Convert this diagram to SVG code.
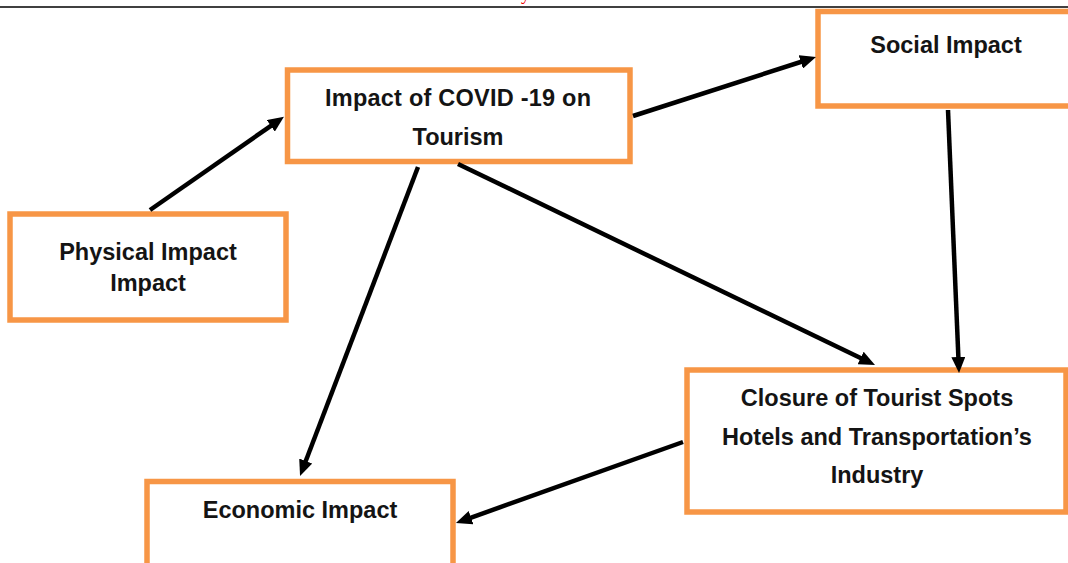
<svg xmlns="http://www.w3.org/2000/svg" width="1068" height="563" viewBox="0 0 1068 563">
<style>
.box{fill:#fff;stroke:#F79646;stroke-width:5.5}
.lbl{font-family:"Liberation Sans",Arial,sans-serif;font-weight:bold;font-size:23.5px;fill:#141414;text-anchor:middle}
.con{stroke:#000;stroke-width:4.5;fill:none;marker-end:url(#ah)}
</style>
<defs>
<marker id="ah" markerUnits="userSpaceOnUse" markerWidth="16" markerHeight="14" viewBox="0 0 16 14" refX="8" refY="7" orient="auto">
<path d="M0,0 L16,7 L0,14 z" fill="#000"/>
</marker>
</defs>
<rect width="1068" height="563" fill="#fff"/>
<line x1="0" y1="7" x2="1068" y2="7" stroke="#000" stroke-width="1.5"/>
<text x="521" y="0" font-family="Liberation Serif,serif" font-size="18" fill="#e00">y</text>
<g id="node-covid">
<rect class="box" x="287.5" y="70" width="342.5" height="91.5"/>
<text class="lbl" x="458" y="106" textLength="266">Impact of COVID -19 on</text>
<text class="lbl" x="458" y="145">Tourism</text>
</g>
<g id="node-physical">
<rect class="box" x="10" y="214" width="276" height="106"/>
<text class="lbl" x="148" y="260">Physical Impact</text>
<text class="lbl" x="148" y="291">Impact</text>
</g>
<g id="node-social">
<rect class="box" x="818" y="11.5" width="258" height="94.5"/>
<text class="lbl" x="946" y="53">Social Impact</text>
</g>
<g id="node-closure">
<rect class="box" x="687" y="370" width="379" height="142"/>
<text class="lbl" x="877" y="406">Closure of Tourist Spots</text>
<text class="lbl" x="877" y="445">Hotels and Transportation’s</text>
<text class="lbl" x="877" y="483">Industry</text>
</g>
<g id="node-economic">
<rect class="box" x="147" y="481.5" width="306" height="100"/>
<text class="lbl" x="300" y="518">Economic Impact</text>
</g>
<g id="connectors">
<line class="con" x1="150" y1="210" x2="277.4" y2="121.3"/>
<line class="con" x1="633" y1="116" x2="808.4" y2="59.5"/>
<line class="con" x1="948" y1="110" x2="958.7" y2="365"/>
<line class="con" x1="418" y1="167" x2="302.9" y2="468.5"/>
<line class="con" x1="458" y1="164" x2="867.8" y2="361.5"/>
<line class="con" x1="683" y1="442" x2="463.5" y2="520.3"/>
</g>
</svg>
